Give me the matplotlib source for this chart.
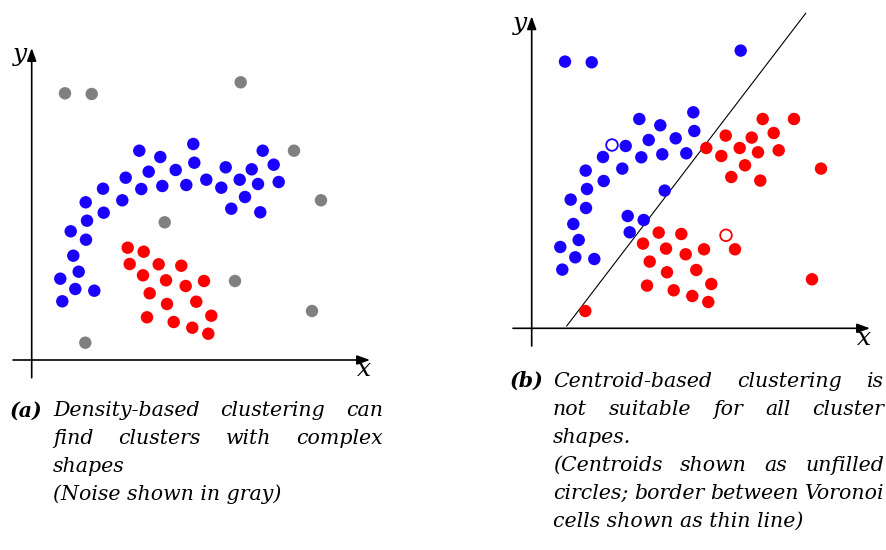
import matplotlib.pyplot as plt

# point coordinates (same data for both panels)
xs = [16.16, 10.76, 12.86, 23.1, 16.26, 14.4, 11.7, 19.4, 22.0, 24.2, 9.4, 17.46, 20.8, 24.7,
      7.13, 10.96, 13.06, 15.46, 18.96, 22.63, 21.33, 9.06, 5.4, 19.96, 22.86, 7.2, 5.53, 3.9,
      5.43, 4.16, 4.7, 2.86, 4.36, 6.26, 3.06,
      9.6, 11.2, 9.8, 12.7, 14.96, 11.13, 13.43, 15.4, 17.23, 11.8, 13.53, 16.46, 11.53, 14.2,
      16.06, 17.96, 17.66,
      3.33, 6.0, 20.9, 26.23, 28.93, 13.3, 20.33, 28.03, 5.36]
ys = [21.6, 20.93, 20.3, 20.93, 19.73, 19.0, 18.83, 19.27, 19.07, 19.53, 18.23, 18.03, 18.03, 17.8,
      17.13, 17.1, 17.4, 17.5, 17.23, 17.6, 16.3, 15.97, 15.77, 15.13, 14.77, 14.73, 13.93, 12.87,
      12.03, 10.43, 8.83, 8.13, 7.1, 6.93, 5.87,
      11.23, 10.83, 9.6, 9.57, 9.43, 8.47, 7.97, 7.4, 7.9, 6.67, 5.6, 5.83, 4.27, 3.8,
      3.23, 4.43, 2.63,
      26.67, 26.6, 27.77, 20.93, 15.97, 13.77, 7.9, 4.9, 1.73]
# b = blue cluster, r = red cluster, n = noise
labels_a = "b" * 35 + "r" * 17 + "n" * 9
labels_b = "bbbrbbbrrrbrrrbbbbrrrbbrrbbbbbbbbbb" + "bbbrrrrrrrrrrrrrr" + "bbbrrbrrr"

centroid_x = [8.03, 19.43]
centroid_y = [18.33, 9.3]
centroid_lab = "br"
border_x = [3.5, 27.4]
border_y = [0.23, 31.5]

caption_a = ["Density-based clustering can", "find clusters with complex",
             "shapes", "(Noise shown in gray)"]
caption_b = ["Centroid-based clustering is", "not suitable for all cluster",
             "shapes.", "(Centroids shown as unfilled", "circles; border between Voronoi",
             "cells shown as thin line)"]
justify_a = [True, True, False, False]
justify_b = [True, True, False, True, True, False]

colors = {"b": "#1a00ff", "r": "#ff0000", "n": "#808080"}

W, H = 886, 550
fig = plt.figure(figsize=(W / 100, H / 100), dpi=100)


def px_axes(left, top, right, bottom, ox, oy):
    ax = fig.add_axes([left / W, 1 - bottom / H, (right - left) / W, (bottom - top) / H])
    ax.set_xlim((left - ox) / 10, (right - ox) / 10)
    ax.set_ylim((oy - bottom) / 10, (oy - top) / 10)
    ax.axis("off")
    return ax


def draw_axes(ax):
    arrow = dict(arrowstyle="-|>,head_length=0.55,head_width=0.2", lw=1.2, color="black",
                 mutation_scale=14, shrinkA=0, shrinkB=0)
    ax.annotate("", xy=(33.83, 0), xytext=(-1.87, 0), arrowprops=arrow)
    ax.annotate("", xy=(0, 31.2), xytext=(0, -1.77), arrowprops=arrow)
    ax.text(33.2, -1.0, "x", fontsize=18, family="DejaVu Serif", style="italic",
            ha="center", va="center")
    ax.text(-1.2, 30.5, "y", fontsize=18, family="DejaVu Serif", style="italic",
            ha="center", va="center")


ax_a = px_axes(0, 20, 400, 390, 31.7, 360)
ax_b = px_axes(500, 0, 886, 360, 531.7, 328.3)

draw_axes(ax_a)
ax_a.scatter(xs, ys, s=80, c=[colors[l] for l in labels_a], linewidths=0, zorder=3)

draw_axes(ax_b)
ax_b.plot(border_x, border_y, color="black", lw=0.8, zorder=2)
ax_b.scatter(xs, ys, s=80, c=[colors[l] for l in labels_b], linewidths=0, zorder=3)
ax_b.scatter(centroid_x, centroid_y, s=70, facecolors="white",
             edgecolors=[colors[l] for l in centroid_lab], linewidths=1.3, zorder=3)

renderer = fig.canvas.get_renderer()
font = dict(family="DejaVu Serif", style="italic", fontsize=14.8)


def caption(tag, lines, just, tag_x, x0, x1, base0, step):
    fig.text(tag_x / W, 1 - base0 / H, tag, fontweight="bold", va="baseline", **font)
    for i, line in enumerate(lines):
        y = 1 - (base0 + i * step) / H
        words = line.split()
        if not just[i]:
            fig.text(x0 / W, y, line, va="baseline", **font)
            continue
        texts = [fig.text(0, y, w, va="baseline", **font) for w in words]
        widths = [t.get_window_extent(renderer).width for t in texts]
        gap = (x1 - x0 - sum(widths)) / (len(words) - 1)
        x = x0
        for t, w in zip(texts, widths):
            t.set_x(x / W)
            x += w + gap


caption("(a)", caption_a, justify_a, 10, 53, 383, 416.5, 27.8)
caption("(b)", caption_b, justify_b, 510, 553, 884, 387, 28)

fig.savefig("out.png", dpi=100)
